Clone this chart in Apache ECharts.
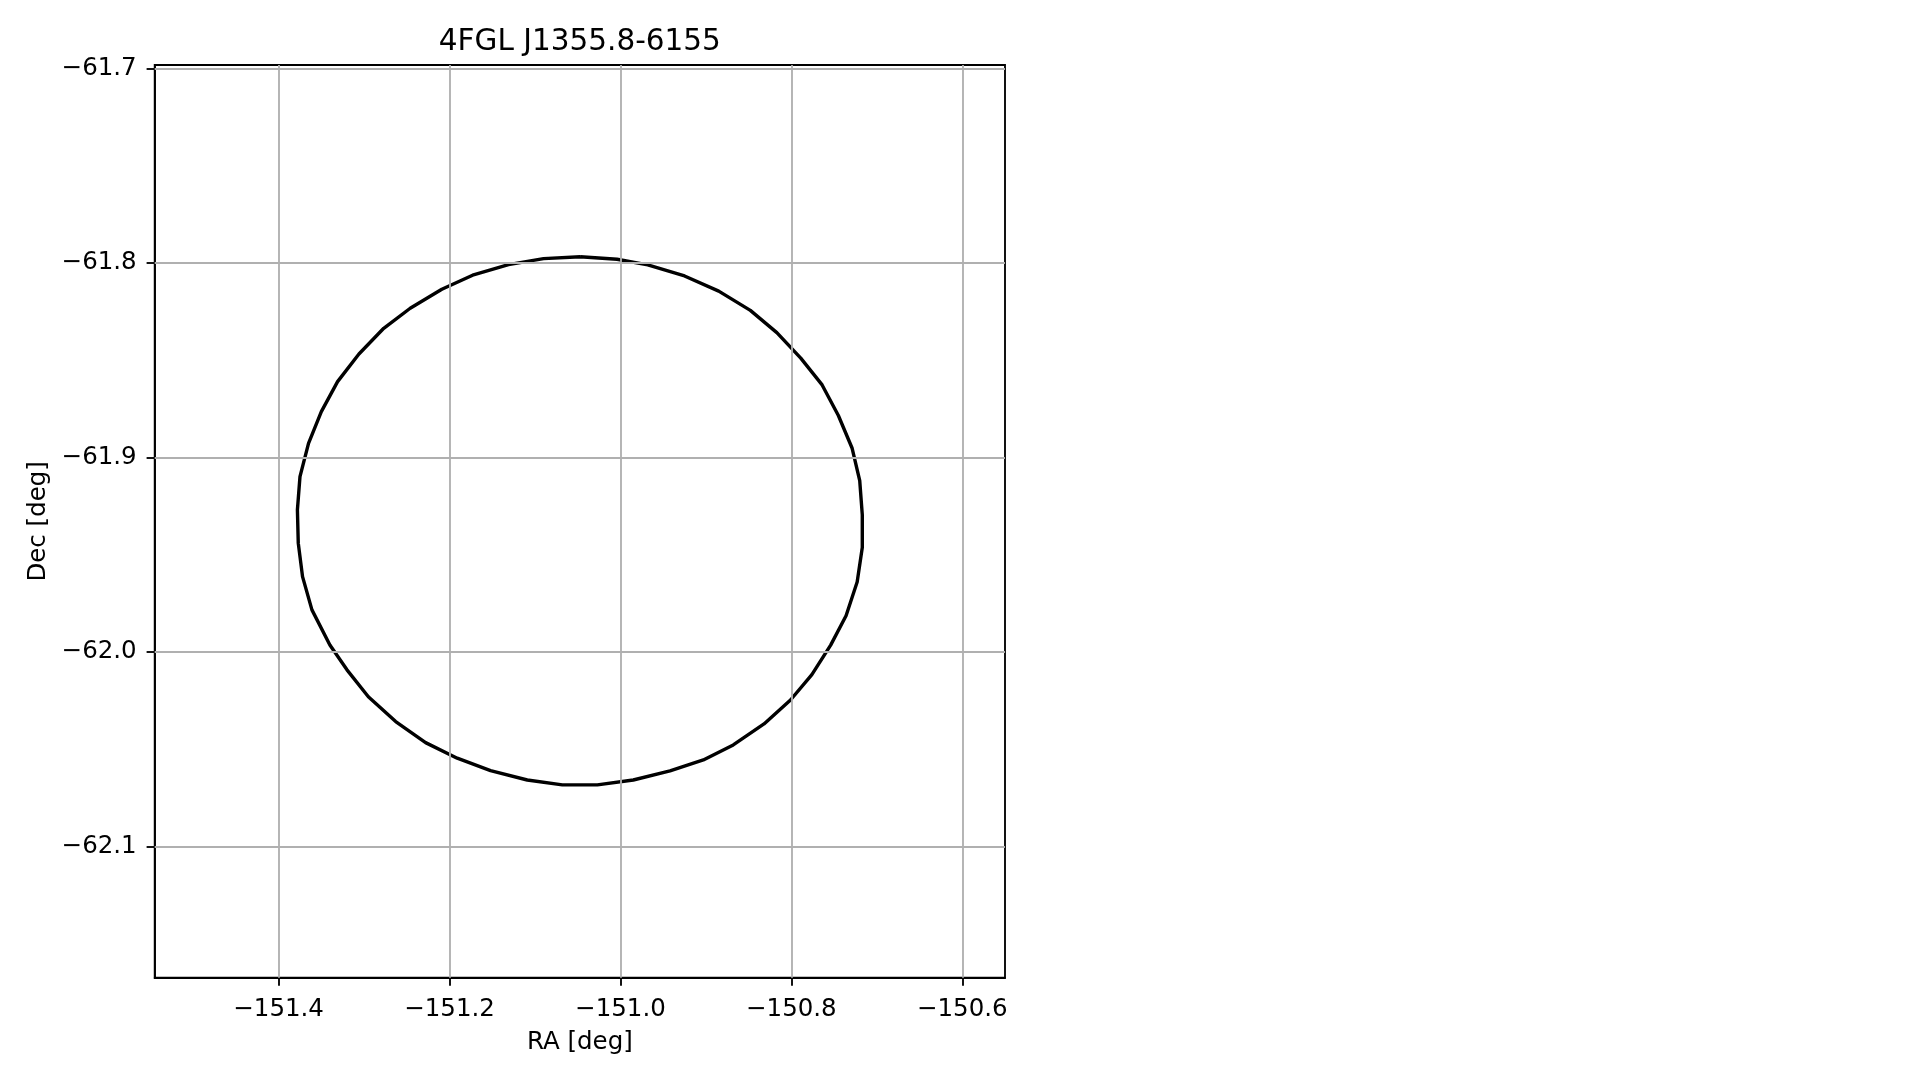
<!DOCTYPE html>
<html>
<head>
<meta charset="utf-8">
<script src="https://cdn.jsdelivr.net/npm/echarts@6/dist/echarts.min.js"></script>
<style>
html,body{margin:0;padding:0;background:#fff;}
#chart{width:1919px;height:1080px;}
</style>
</head>
<body>
<div id="chart"></div>
<script>
// ---- data ----
const titleText = '4FGL J1355.8-6155';
const xName = 'RA [deg]';
const yName = 'Dec [deg]';
const xTicks = [-151.4, -151.2, -151.0, -150.8, -150.6];
const yTicks = [-62.1, -62.0, -61.9, -61.8, -61.7];
const xRange = [-151.545, -150.550];
const yRange = [-62.1673, -61.6983];
// contour vertices (RA, Dec)
const raVals = [
  -151.047, -151.004, -150.968, -150.925, -150.885, -150.848, -150.817, -150.789,
  -150.764, -150.745, -150.729, -150.720, -150.717, -150.717, -150.723, -150.736,
  -150.754, -150.776, -150.801, -150.832, -150.868, -150.903, -150.942, -150.985,
  -151.027, -151.068, -151.109, -151.152, -151.191, -151.228, -151.263, -151.295,
  -151.320, -151.340, -151.361, -151.372, -151.377, -151.378, -151.375, -151.365,
  -151.350, -151.331, -151.306, -151.277, -151.246, -151.209, -151.173, -151.131,
  -151.090
];
const decVals = [
  -61.7968, -61.7981, -61.8010, -61.8067, -61.8145, -61.8244, -61.8358, -61.8489,
  -61.8627, -61.8784, -61.8951, -61.9119, -61.9295, -61.9462, -61.9640, -61.9813,
  -61.9964, -62.0116, -62.0246, -62.0369, -62.0477, -62.0554, -62.0610, -62.0657,
  -62.0682, -62.0682, -62.0657, -62.0609, -62.0545, -62.0465, -62.0357, -62.0229,
  -62.0091, -61.9963, -61.9783, -61.9612, -61.9440, -61.9269, -61.9098, -61.8927,
  -61.8764, -61.8610, -61.8468, -61.8336, -61.8233, -61.8135, -61.8063, -61.8009,
  -61.7978
];

// ---- build ----
const FONT = 'DejaVu Sans';
const fmt = v => (v < 0 ? '\u2212' : '') + Math.abs(v).toFixed(1);
const pts = raVals.map((r, i) => [r, decVals[i]]);
pts.push([raVals[0], decVals[0]]);

const G = {left: 154.7, top: 65, width: 850.3, height: 912.7};
const chart = echarts.init(document.getElementById('chart'), null, {renderer: 'canvas'});
chart.setOption({
  animation: false,
  backgroundColor: '#fff',
  grid: {left: G.left, top: G.top, width: G.width, height: G.height,
         show: true, borderColor: '#000', borderWidth: 1.85, backgroundColor: 'transparent'},
  graphic: [{
    type: 'text', x: G.left + G.width / 2, y: 42, z: 10,
    style: {text: titleText, font: '29.5px "' + FONT + '"', fill: '#000',
            align: 'center', verticalAlign: 'middle'}
  }],
  xAxis: {
    type: 'value', min: xRange[0], max: xRange[1],
    name: xName, nameLocation: 'middle', nameGap: 52,
    nameTextStyle: {fontFamily: FONT, fontSize: 24.5, color: '#000'},
    axisLine: {show: true, onZero: false, lineStyle: {color: '#000', width: 1.85}},
    axisTick: {show: true, inside: false, length: 8.1, customValues: xTicks,
               lineStyle: {color: '#000', width: 1.85}},
    axisLabel: {show: true, margin: 19, customValues: xTicks, formatter: fmt,
                fontFamily: FONT, fontSize: 24.5, color: '#000'},
    splitLine: {show: false}
  },
  yAxis: {
    type: 'value', min: yRange[0], max: yRange[1],
    name: yName, nameLocation: 'middle', nameGap: 104,
    nameTextStyle: {fontFamily: FONT, fontSize: 24.5, color: '#000'},
    axisLine: {show: true, onZero: false, lineStyle: {color: '#000', width: 1.85}},
    axisTick: {show: true, inside: false, length: 8.1, customValues: yTicks,
               lineStyle: {color: '#000', width: 1.85}},
    axisLabel: {show: true, margin: 18, customValues: yTicks, formatter: fmt,
                fontFamily: FONT, fontSize: 24.5, color: '#000'},
    splitLine: {show: false}
  },
  series: [
    {
      type: 'line', data: [], z: 1, silent: true,
      markLine: {
        silent: true, symbol: ['none', 'none'], label: {show: false},
        animation: false,
        lineStyle: {color: '#b0b0b0', width: 1.85, type: 'solid'},
        emphasis: {disabled: true},
        data: xTicks.map(v => ({xAxis: v})).concat(yTicks.map(v => ({yAxis: v})))
      }
    },
    {
      type: 'line', data: pts, z: 3, showSymbol: false, symbol: 'none', smooth: false,
      silent: true,
      lineStyle: {color: '#000', width: 3.4}
    }
  ]
});
</script>
</body>
</html>
